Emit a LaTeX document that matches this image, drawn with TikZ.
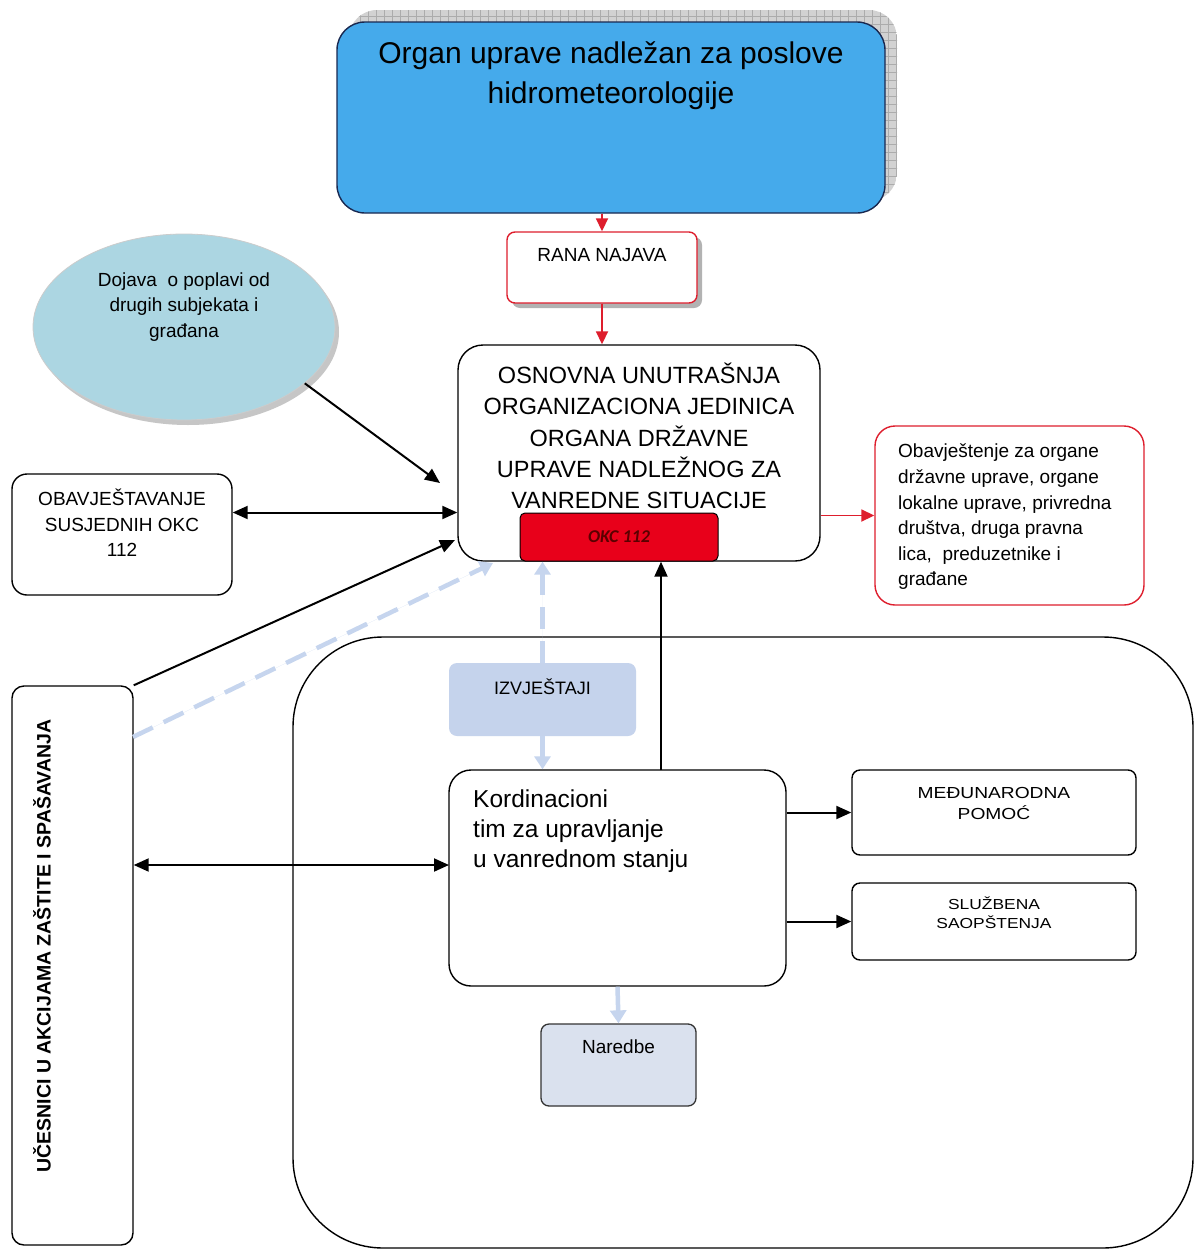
\documentclass[tikz,border=0pt]{standalone}
\usepackage{fontspec}
\setmainfont{Liberation Sans}
\newfontfamily\carl{Carlito}
\newfontfamily\widefont[FakeStretch=1.2]{Liberation Sans}
\usetikzlibrary{arrows.meta,calc,shapes.geometric}
\newcommand\myfs[2]{\fontsize{#1}{#2}\selectfont}
\definecolor{hblue}{RGB}{69,170,235}
\definecolor{navy}{RGB}{25,40,80}
\definecolor{ellblue}{RGB}{172,214,226}
\definecolor{bred}{RGB}{222,30,45}
\definecolor{okcred}{RGB}{232,0,26}
\definecolor{okctext}{RGB}{90,0,0}
\definecolor{lblue}{RGB}{198,213,238}
\definecolor{izvfill}{RGB}{197,211,236}
\definecolor{narfill}{RGB}{218,225,238}
\tikzset{
  bx/.style={draw=black, line width=1.4pt, inner sep=0pt},
  txt/.style={inner sep=0pt, align=center},
  arr/.style={-{Triangle[length=15pt,width=13pt]}, line width=2pt},
  darr/.style={{Triangle[length=15pt,width=13pt]}-{Triangle[length=15pt,width=13pt]}, line width=2pt},
  rarr/.style={-{Triangle[length=13pt,width=12pt]}, line width=1.8pt, draw=bred, fill=bred},
  larr/.style={-{Triangle[length=13pt,width=16pt]}, line width=4.5pt, draw=lblue, fill=lblue},
  ldash/.style={larr, dash pattern=on 22pt off 12pt},
}
\begin{document}
\begin{tikzpicture}[x=1pt,y=-1pt]
\useasboundingbox (0,0) rectangle (1194,1250);
\fill[white] (0,0) rectangle (1194,1250);

% big container
\node[bx, rounded corners=90pt, minimum width=900pt, minimum height=611pt] (cont) at (743,942.5) {};

% top blue box with grid shadow
\begin{scope}
\clip[rounded corners=28pt] (349,10) rectangle (897,201);
\fill[gray!35] (349,10) rectangle (897,201);
\draw[gray!65, line width=0.4pt, step=8pt] (340,0) grid (900,210);
\end{scope}
\node[bx, draw=navy, fill=hblue, rounded corners=28pt, minimum width=548pt, minimum height=191pt] (blue) at (611,117.5) {};
\node[txt, font=\myfs{30}{40}] (bluet) at (611,76) {Organ uprave nadležan za poslove\\hidrometeorologije};

% RANA NAJAVA
\fill[gray!60, rounded corners=8pt] (512,237) rectangle (702,308);
\node[bx, draw=bred, fill=white, rounded corners=8pt, minimum width=190pt, minimum height=71pt] (rana) at (602,267.5) {};
\node[txt, font=\myfs{19}{24}] (ranat) at (602,255) {RANA NAJAVA};

% ellipse
\fill[gray!45] (188,332) ellipse [x radius=151, y radius=93];
\node[ellipse, draw=gray!40, line width=0.8pt, fill=ellblue, minimum width=302pt, minimum height=186pt, inner sep=0pt] (ell) at (184,327) {};
\node[txt, font=\myfs{19}{25.5}] (ellt) at (184,307) {Dojava\ \ o poplavi od\\drugih subjekata i\\građana};

% OSNOVNA box
\node[bx, fill=white, rounded corners=25pt, minimum width=362pt, minimum height=216pt] (osn) at (639,453) {};
\node[txt, font=\myfs{23.5}{31.2}] (osnt) at (639,436) {OSNOVNA UNUTRAŠNJA\\ORGANIZACIONA JEDINICA\\ORGANA DRŽAVNE\\UPRAVE NADLEŽNOG ZA\\VANREDNE SITUACIJE};
\node[draw=black, line width=1pt, fill=okcred, rounded corners=5pt, minimum width=198pt, minimum height=48pt, inner sep=0pt] (okc) at (619,537) {};
\node[txt, font=\carl\bfseries\itshape\myfs{18}{20}, text=okctext] (okct) at (619,537) {OKC 112};

% OBAVJESTAVANJE
\node[bx, fill=white, rounded corners=15pt, minimum width=220pt, minimum height=121pt] (obav) at (122,534.5) {};
\node[txt, font=\myfs{19}{25.5}] (obavt) at (122,523) {OBAVJEŠTAVANJE\\SUSJEDNIH OKC\\112};

% red info box
\node[bx, draw=bred, fill=white, rounded corners=20pt, minimum width=269pt, minimum height=179pt] (obj) at (1009.5,515.5) {};
\node[inner sep=0pt, align=left, anchor=west, font=\myfs{19}{25.6}] (objt) at (898,517) {Obavještenje za organe\\državne uprave, organe\\lokalne uprave, privredna\\društva, druga pravna\\lica,\ \ preduzetnike i\\građane};

% UCESNICI
\node[bx, fill=white, rounded corners=12pt, minimum width=121pt, minimum height=559pt] (uc) at (72.5,965.5) {};
\node[txt, rotate=90, font=\bfseries\myfs{19.5}{22}] (uct) at (42,946) {UČESNICI U AKCIJAMA ZAŠTITE I SPAŠAVANJA};

% IZVJESTAJI
\node[fill=izvfill, rounded corners=8pt, minimum width=187pt, minimum height=73pt, inner sep=0pt] (izv) at (542.5,699.5) {};
\node[txt, font=\myfs{18}{22}] (izvt) at (542.5,687) {IZVJEŠTAJI};

% Kordinacioni
\node[bx, fill=white, rounded corners=22pt, minimum width=337pt, minimum height=216pt] (kord) at (617.5,878) {};
\node[inner sep=0pt, align=left, anchor=west, font=\myfs{24.5}{30}] (kordt) at (473,831) {Kordinacioni\\tim za upravljanje\\u vanrednom stanju};

% MEDJUNARODNA / SLUZBENA
\node[bx, rounded corners=8pt, minimum width=284pt, minimum height=85pt] (med) at (994,812.5) {};
\node[txt, font=\widefont\myfs{16}{21}] (medt) at (994,803) {MEĐUNARODNA\\POMOĆ};
\node[bx, rounded corners=8pt, minimum width=284pt, minimum height=77pt] (slu) at (994,921.5) {};
\node[txt, font=\widefont\myfs{14.5}{19}] (slut) at (994,913) {SLUŽBENA\\SAOPŠTENJA};

% Naredbe
\node[bx, line width=1.3pt, draw=black!80, fill=narfill, rounded corners=8pt, minimum width=155pt, minimum height=82pt] (nar) at (618.5,1065) {};
\node[txt, font=\myfs{19}{22}] (nart) at (618.5,1047) {Naredbe};

% coordinates for free ends
\coordinate (ellend) at (440,483);
\coordinate (ucend) at (455,540);
\coordinate (ucdash0) at (133,737);
\coordinate (ucdash1) at (493,563);
\coordinate (kordl) at (449,865);
\coordinate (kordt0) at (661,770);

% connectors
\draw[rarr] (rana.north |- blue.south) -- (rana.north);
\draw[rarr] (rana.south) -- (rana.south |- osn.north);
\draw[arr] (ell.-25) -- (ellend);
\draw[darr] (obav.east |- okc.north) -- (osn.west |- okc.north);
\draw[rarr] (osn.east |- obj.west) -- (obj.west);
\draw[arr] (uc.north east) -- (ucend);
\draw[ldash] (ucdash0) -- (ucdash1);
\draw[ldash] (izv.north) -- (izv.north |- osn.south);
\draw[larr] (izv.south) -- (izv.south |- kord.north);
\draw[arr] (kordt0) -- (kordt0 |- osn.south);
\draw[darr] (uc.east |- kordl) -- (kordl);
\draw[arr] (kord.east |- med.west) -- (med.west);
\draw[arr] (kord.east |- slu.west) -- (slu.west);
\draw[larr] (kord.south) -- (nar.north);
\end{tikzpicture}
\end{document}
